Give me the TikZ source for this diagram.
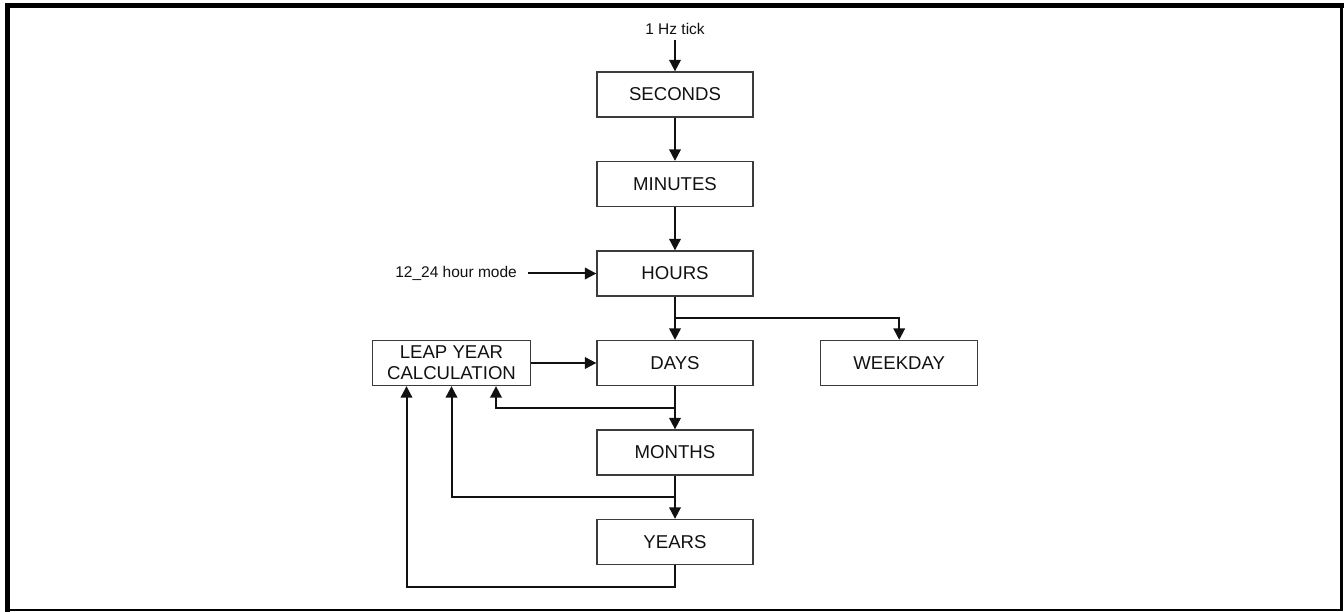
\documentclass[tikz,border=0pt]{standalone}
\usepackage{fontspec}
\setmainfont{Liberation Sans}
\usetikzlibrary{arrows.meta,calc}
\definecolor{ink}{HTML}{111111}
\definecolor{edge}{HTML}{3C3C3C}
\newcommand{\colx}{675}
\newcommand{\pitch}{89.5}

\begin{document}
\begin{tikzpicture}[x=1pt, y=-1pt, >={Triangle[length=11.5pt,width=11.5pt]},
  block/.style={draw=edge, line width=1.3pt, minimum width=156pt, minimum height=45pt,
    inner sep=0pt, align=center, text=ink, font=\fontsize{18.6}{21}\selectfont},
  tag/.style={inner sep=0pt, text=ink, font=\fontsize{15.5}{18}\selectfont},
  flow/.style={->, ink, line width=2pt}]

\useasboundingbox (0,0) rectangle (1344,612);

% ================= frame =================
\draw[line width=2.5pt, line cap=rect] (7.5,610) -- (1341.3,610) -- (1341.3,5.5);
\draw[line width=5pt, line cap=rect] (7.5,610) -- (7.5,5.5) -- (1341.3,5.5);

% ================= counter chain =================
\def\topy{94.5}
\node[block] (sec)  at (\colx,\topy)            {SECONDS};
\node[block] (min)  at (\colx,{\topy+\pitch})   {MINUTES};
\node[block] (hrs)  at (\colx,{\topy+2*\pitch}) {HOURS};
\node[block] (days) at (\colx,{\topy+3*\pitch}) {DAYS};
\node[block] (mon)  at (\colx,{\topy+4*\pitch}) {MONTHS};
\node[block] (yrs)  at (\colx,{\topy+5*\pitch}) {YEARS};

% side blocks
\node[block, minimum width=157.6pt] (leap) at (451.5,{\topy+3*\pitch}) {LEAP YEAR\\CALCULATION};
\node[block, minimum width=157pt]   (wkd)  at (899.2,{\topy+3*\pitch}) {WEEKDAY};

% inputs
\node[tag] (tick) at (\colx,29) {1 Hz tick};
\node[tag, anchor=east] (mode) at (517,{\topy+2*\pitch}) {12\_24 hour mode};

% ================= arrows =================
\draw[flow, shorten <=5pt] (tick) -- (sec);
\draw[flow] (sec) -- (min);
\draw[flow] (min) -- (hrs);
\draw[flow] (hrs) -- (days);
\draw[flow] (days) -- (mon);
\draw[flow] (mon) -- (yrs);
\draw[flow, shorten <=11pt] (mode) -- (hrs);
\draw[flow] (leap) -- (days);

% branches off the chain
\coordinate (hsplit) at ($(hrs.south)!.5!(days.north)$);
\coordinate (dsplit) at ($(days.south)!.5!(mon.north)$);
\coordinate (msplit) at ($(mon.south)!.5!(yrs.north)$);
\coordinate (ybend)  at ($(yrs.south)+(0,21.7)$);

\draw[flow] (hsplit) -| (wkd.north);
\draw[flow] (dsplit) -| ([xshift=44.5pt]leap.south);
\draw[flow] (msplit) -| (leap.south);
\draw[flow] (yrs.south) -- (ybend) -| ([xshift=-45pt]leap.south);

\end{tikzpicture}
\end{document}
